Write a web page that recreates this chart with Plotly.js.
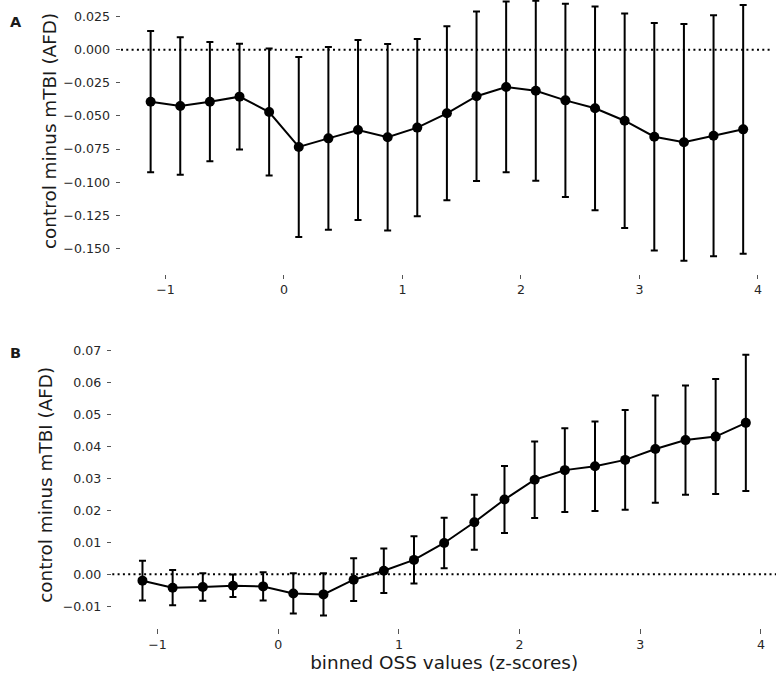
<!DOCTYPE html>
<html>
<head>
<meta charset="utf-8">
<script src="https://cdn.plot.ly/plotly-3.0.1.min.js"></script>
<style>html,body{margin:0;padding:0;background:#fff;}#chart{width:776px;height:673px;}</style>
</head>
<body>
<div id="chart"></div>
<script>
// binned OSS values (z-scores), bin centres
const binCentres = [-1.125, -0.875, -0.625, -0.375, -0.125, 0.125, 0.375, 0.625, 0.875, 1.125, 1.375,
                    1.625, 1.875, 2.125, 2.375, 2.625, 2.875, 3.125, 3.375, 3.625, 3.875];
// Panel A: control minus mTBI (AFD)
const diffA = [-0.0392, -0.0425, -0.0392, -0.0354, -0.0470, -0.0734, -0.0669, -0.0606, -0.0661, -0.0588, -0.0480,
               -0.0351, -0.0281, -0.0309, -0.0382, -0.0442, -0.0536, -0.0657, -0.0699, -0.0649, -0.0601];
const errA  = [0.0534, 0.0520, 0.0450, 0.0400, 0.0480, 0.0680, 0.0690, 0.0680, 0.0705, 0.0670, 0.0657,
               0.0640, 0.0645, 0.0680, 0.0730, 0.0770, 0.0810, 0.0860, 0.0894, 0.0910, 0.0940];
// Panel B: control minus mTBI (AFD)
const diffB = [-0.0020, -0.0042, -0.0040, -0.0036, -0.0038, -0.0060, -0.0063, -0.0017, 0.0011, 0.0045, 0.0098,
               0.0163, 0.0234, 0.0296, 0.0326, 0.0338, 0.0358, 0.0392, 0.0420, 0.0431, 0.0474];
const errB  = [0.0062, 0.0055, 0.0043, 0.0035, 0.0044, 0.0063, 0.0066, 0.0067, 0.0070, 0.0074, 0.0079,
               0.0086, 0.0105, 0.0120, 0.0131, 0.0140, 0.0156, 0.0168, 0.0171, 0.0180, 0.0213];
const yTitle = "control minus mTBI (AFD)";
const xTitle = "binned OSS values (z-scores)";
const panelLabels = ["A", "B"];

const W = 776, H = 673;
const px = v => v / W;
const py = v => 1 - v / H;

function trace(y, e, xa, ya) {
  return {
    type: 'scatter', mode: 'lines+markers', x: binCentres, y: y,
    xaxis: xa, yaxis: ya, showlegend: false, cliponaxis: false,
    line: {color: '#000', width: 2},
    marker: {color: '#000', size: 10},
    error_y: {type: 'data', array: e, visible: true, color: '#000', thickness: 2, width: 3.5}
  };
}

const tickFont = {family: 'DejaVu Sans', size: 12.6, color: '#262626'};
const titleFont = {family: 'DejaVu Sans', size: 18.4, color: '#1a1a1a'};
const common = {showline: false, zeroline: false, showgrid: false, ticks: 'outside', ticklen: 4.5,
                tickwidth: 1, tickcolor: '#555', tickfont: tickFont, fixedrange: true};

const layout = {
  width: W, height: H,
  margin: {l: 0, r: 0, t: 0, b: 0},
  paper_bgcolor: '#fff', plot_bgcolor: '#fff',
  xaxis: Object.assign({}, common, {domain: [px(121), px(772.8)], range: [-1.375, 4.125],
    dtick: 1, anchor: 'y'}),
  yaxis: Object.assign({}, common, {domain: [py(273.6), 1], range: [-0.1691, 0.03762],
    dtick: 0.025, tickformat: '.3f', anchor: 'x', ticklabelstandoff: 3}),
  xaxis2: Object.assign({}, common, {domain: [px(112.3), 1], range: [-1.375, 4.125],
    dtick: 1, anchor: 'y2',
    title: {text: xTitle, font: titleFont, standoff: 3}}),
  yaxis2: Object.assign({}, common, {domain: [py(628.2), py(341.45)], range: [-0.01688, 0.07288],
    dtick: 0.01, tickformat: '.2f', anchor: 'x2', ticklabelstandoff: 3,
    title: {text: yTitle, font: titleFont, standoff: 5}}),
  shapes: [
    {type: 'line', xref: 'x domain', yref: 'y', x0: 0, x1: 1, y0: 0, y1: 0, layer: 'below',
     line: {color: '#000', width: 2, dash: '2px,3.3px'}},
    {type: 'line', xref: 'x2 domain', yref: 'y2', x0: 0, x1: 1, y0: 0, y1: 0, layer: 'below',
     line: {color: '#000', width: 2, dash: '2px,3.3px'}}
  ],
  annotations: [
    {text: yTitle, xref: 'paper', yref: 'paper', x: px(50), y: py(131), textangle: -90,
     xanchor: 'center', yanchor: 'middle', showarrow: false, font: titleFont},
    {text: '<b>' + panelLabels[0] + '</b>', xref: 'paper', yref: 'paper', x: px(8), y: py(12),
     showarrow: false, font: {family: 'DejaVu Sans', size: 14.5, color: '#1a1a1a'}},
    {text: '<b>' + panelLabels[1] + '</b>', xref: 'paper', yref: 'paper', x: px(8), y: py(353),
     showarrow: false, font: {family: 'DejaVu Sans', size: 14.5, color: '#1a1a1a'}}
  ]
};

Plotly.newPlot('chart', [trace(diffA, errA, 'x', 'y'), trace(diffB, errB, 'x2', 'y2')], layout,
  {staticPlot: true, displayModeBar: false});
</script>
</body>
</html>
